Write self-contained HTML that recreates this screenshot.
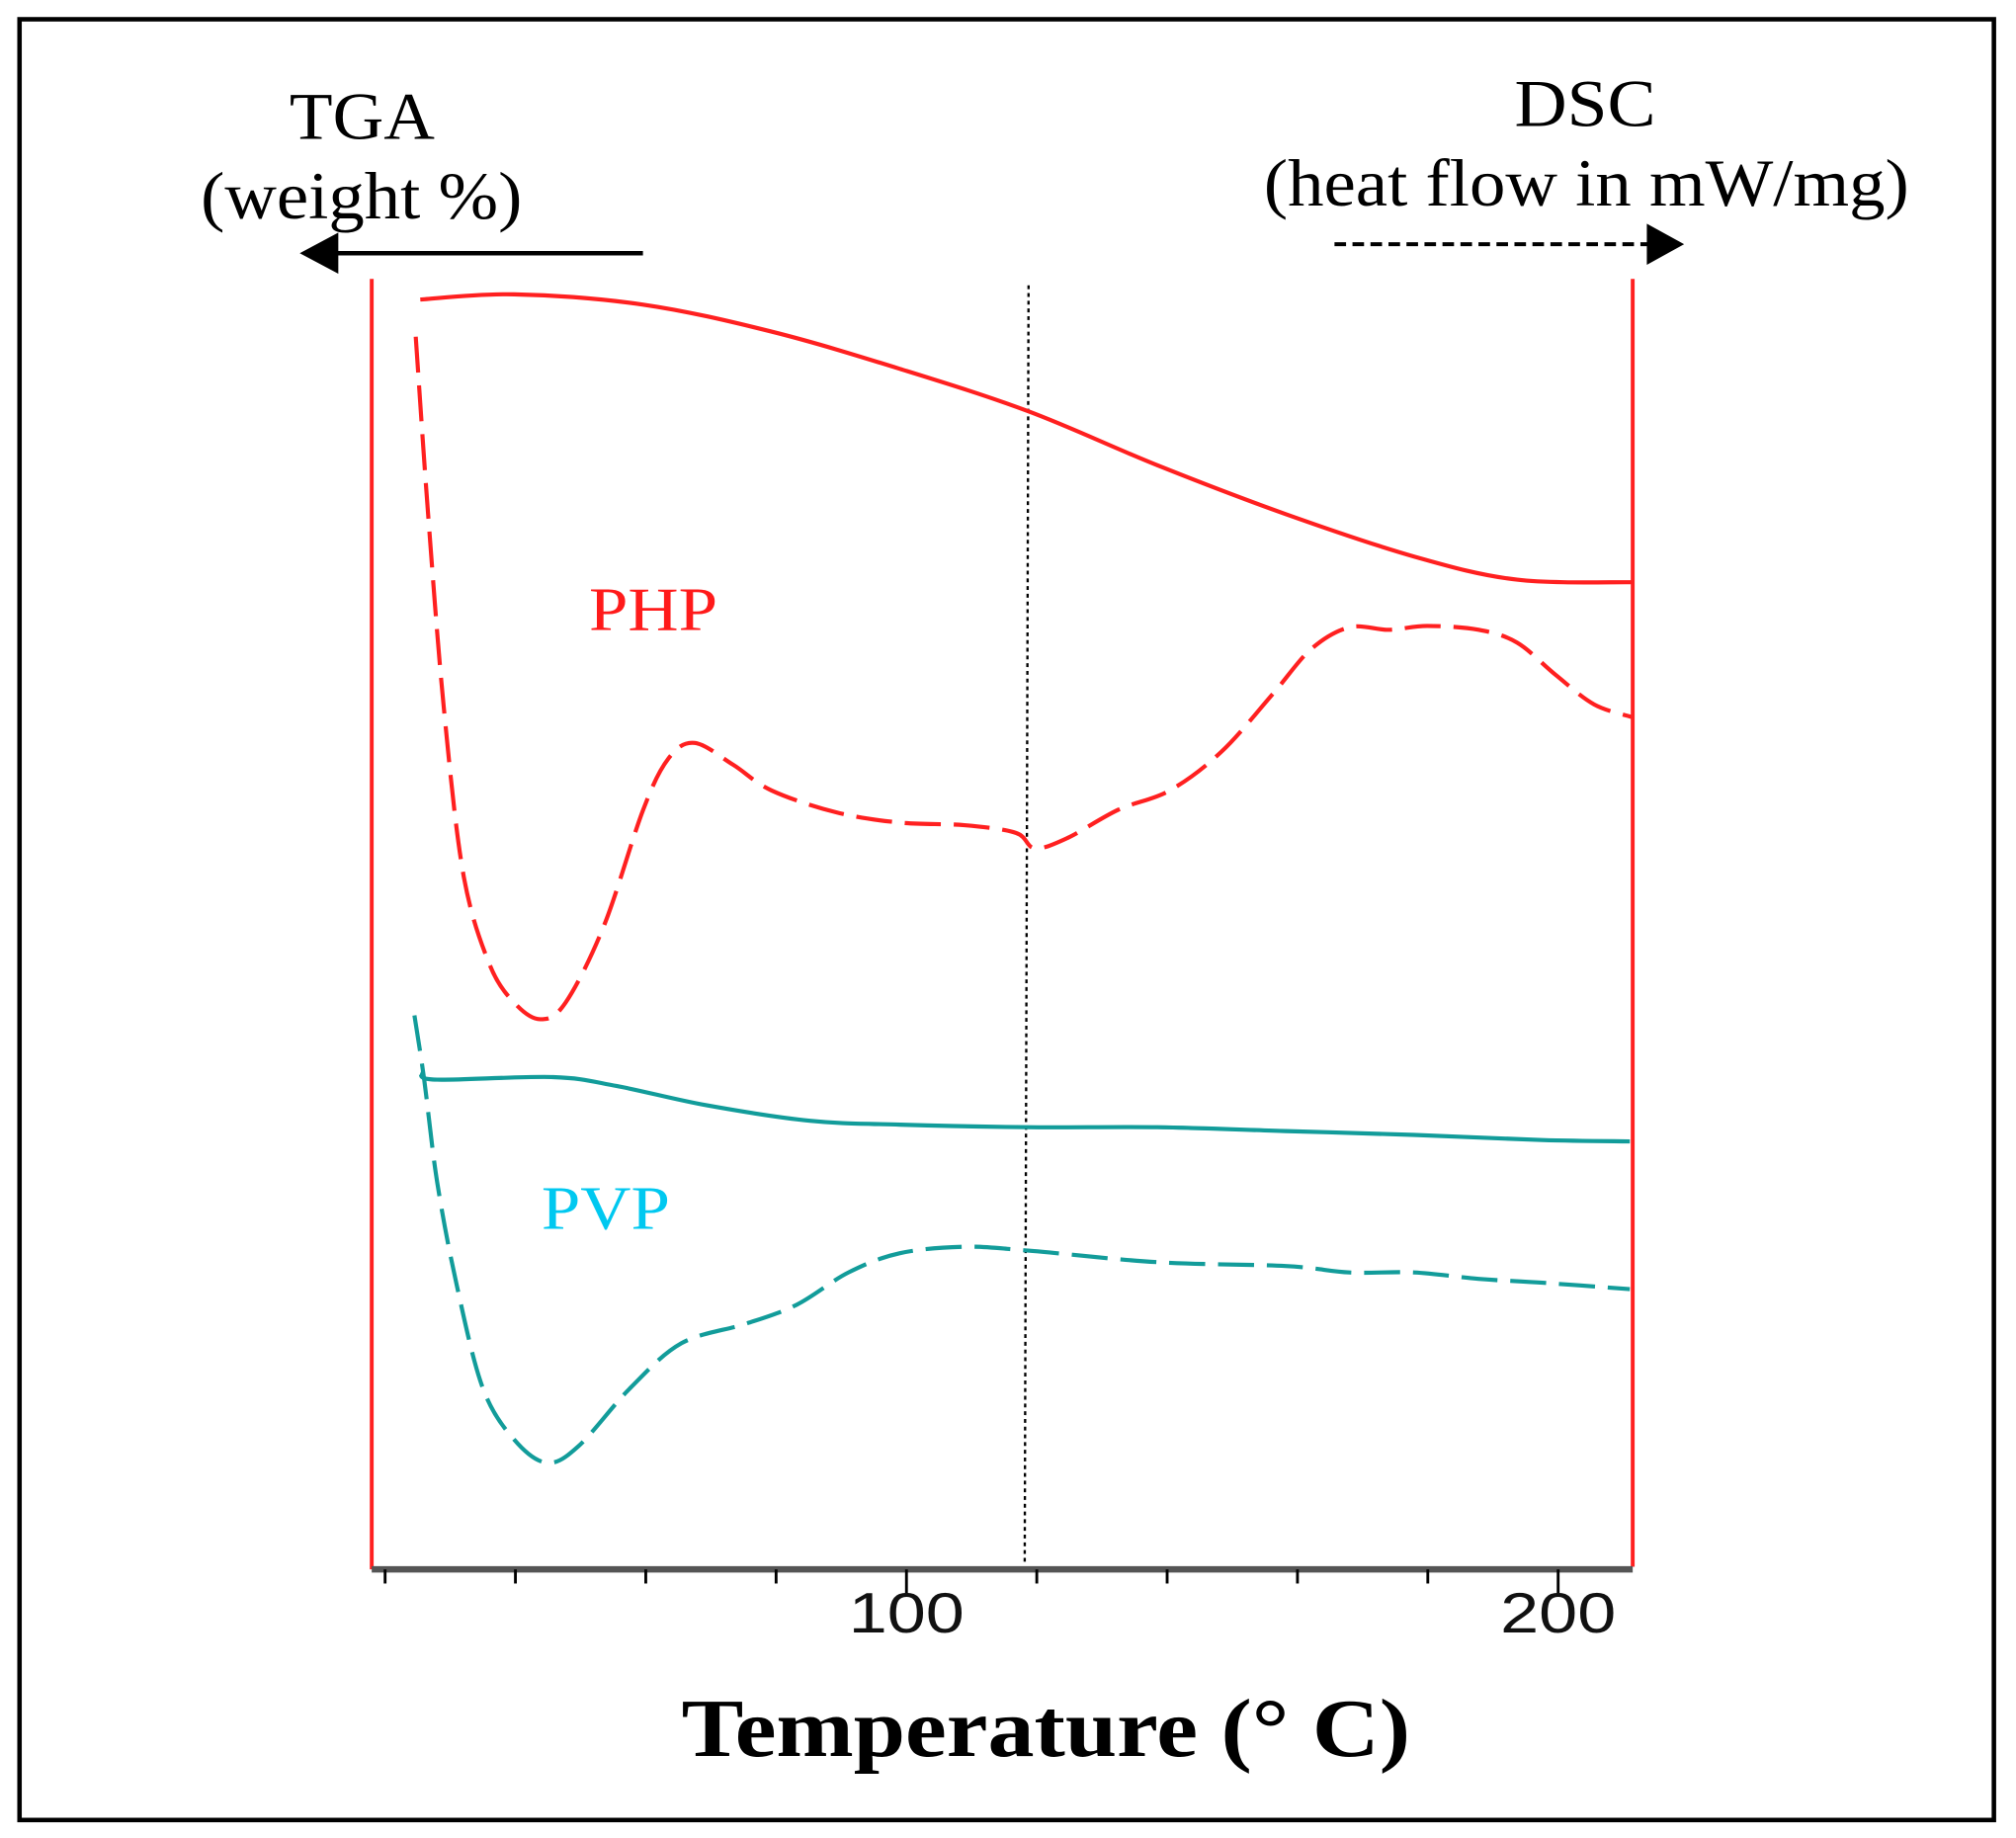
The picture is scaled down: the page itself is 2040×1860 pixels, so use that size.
<!DOCTYPE html>
<html><head><meta charset="utf-8"><style>
html,body{margin:0;padding:0;background:#fff;}
svg{display:block;}
</style></head><body>
<svg id="chart" width="2040" height="1860" viewBox="0 0 1568 1430" xmlns="http://www.w3.org/2000/svg">
<rect x="15" y="15" width="1536" height="1401" fill="#fff" stroke="#000" stroke-width="3.5"/>
<text x="225" y="108" textLength="113" lengthAdjust="spacingAndGlyphs" font-family="Liberation Serif, serif" font-size="52">TGA</text>
<text x="156" y="170" textLength="250" lengthAdjust="spacingAndGlyphs" font-family="Liberation Serif, serif" font-size="52">(weight %)</text>
<line x1="500" y1="197" x2="255" y2="197" stroke="#000" stroke-width="3.5"/>
<polygon points="233,197 263,181 263,213" fill="#000"/>
<text x="1178" y="98" textLength="110" lengthAdjust="spacingAndGlyphs" font-family="Liberation Serif, serif" font-size="52">DSC</text>
<text x="983" y="160" textLength="502" lengthAdjust="spacingAndGlyphs" font-family="Liberation Serif, serif" font-size="52">(heat flow in mW/mg)</text>
<line x1="1038" y1="190" x2="1285" y2="190" stroke="#000" stroke-width="3" stroke-dasharray="9,5"/>
<polygon points="1310,190 1281,174 1281,206" fill="#000"/>
<line x1="289" y1="217" x2="289" y2="1221" stroke="#ff2020" stroke-width="3"/>
<line x1="1270" y1="217" x2="1270" y2="1219" stroke="#ff2020" stroke-width="3"/>
<line x1="289" y1="1221" x2="1270" y2="1221" stroke="#555" stroke-width="5"/>
<line x1="800" y1="222" x2="797" y2="1215" stroke="#000" stroke-width="1.8" stroke-dasharray="3,3"/>
<g id="ticks"></g>
<g id="series"></g>
<text x="458" y="490" textLength="100" lengthAdjust="spacingAndGlyphs" font-family="Liberation Serif, serif" font-size="48" fill="#ff1a1a">PHP</text>
<text x="421" y="956" textLength="100" lengthAdjust="spacingAndGlyphs" font-family="Liberation Serif, serif" font-size="48" fill="#00c8f0">PVP</text>
<text x="530" y="1366" textLength="567" lengthAdjust="spacingAndGlyphs" font-family="Liberation Serif, serif" font-size="64" font-weight="bold">Temperature (° C)</text>
</svg>
<script>
const tickValues = [20,40,60,80,100,120,140,160,180,200];
const tickLabels = ["100","200"];
const phpTgaT = [25.4,39.8,59.6,79.3,99,118.7,138.5,158.2,177.9,193.7,211.4];
const phpTgaV = [98.7,99.1,98.3,96.2,93.3,90.0,85.8,82.0,78.7,76.9,76.7];
const phpDscT = [24.7,26.6,29,32,36,39.8,43.8,47.7,53.6,59.6,63.5,67.5,73.4,79.3,89.2,99,108.9,116.8,119.7,124.7,132.5,140.4,148.3,156.2,162.1,168,174,179.9,187.8,193.7,199.6,205.5,211.4];
const phpDscV = [95.8,82,67,54,47,44,42.7,44,50,59,63,64.2,62.5,60.5,58.8,58,57.8,57.2,56,56.8,59,60.5,63.5,68,71.5,73.2,73,73.3,73,72,69.5,67.2,66.2];
const pvpTgaT = [25.4,28,45.8,55.6,69.4,85.2,99,118.7,138.5,158.2,177.9,197.6,211];
const pvpTgaV = [38.5,38,38.2,37.5,36,34.8,34.5,34.3,34.3,34,33.7,33.3,33.2];
const pvpDscT = [24.5,26,28,31,35,39.8,44.8,49.7,57.6,65.5,75.3,83.2,91.1,99,108.9,118.7,138.5,158.2,168,177.9,187.8,197.6,211];
const pvpDscV = [43,38,30,22,14,10,8.2,9.5,14,17.5,19,20.5,23,24.5,25,24.7,23.8,23.5,23,23,22.5,22.2,21.7];

const xs = t => 705 + (t - 100) * 5.07;
const ys = v => 1220 - v * 10;
const NS = "http://www.w3.org/2000/svg";
const tg = document.getElementById('ticks');
tickValues.forEach(t => {
  const l = document.createElementNS(NS,'line');
  
  
  l.setAttribute('x1', xs(t)); l.setAttribute('x2', xs(t));
  l.setAttribute('y1', 1221); l.setAttribute('y2', t % 100 === 0 ? 1240 : 1232);
  l.setAttribute('stroke', '#000'); l.setAttribute('stroke-width', 2.2);
  tg.appendChild(l);
});
tickLabels.forEach(s => {
  const tx = document.createElementNS(NS,'text');
  
  
  tx.setAttribute('x', xs(+s) - 45); tx.setAttribute('y', 1270);
  tx.setAttribute('textLength', 90);
  tx.setAttribute('lengthAdjust', 'spacingAndGlyphs');
  tx.setAttribute('font-family', 'Liberation Sans, sans-serif');
  tx.setAttribute('font-size', 44);
  tx.setAttribute('fill', '#111');
  tx.textContent = s;
  tg.appendChild(tx);
});
const sg = document.getElementById('series');
function draw(T, V, color, dash, name) {
  let d = '';
  for (let i = 0; i < T.length; i++) {
    const x = xs(T[i]), y = ys(V[i]);
    if (i === 0) d += 'M' + x + ',' + y;
    else {
      const x0 = xs(T[i-1]), y0 = ys(V[i-1]);
      const xp = i > 1 ? xs(T[i-2]) : x0, yp = i > 1 ? ys(V[i-2]) : y0;
      const xn = i < T.length-1 ? xs(T[i+1]) : x, yn = i < T.length-1 ? ys(V[i+1]) : y;
      const c1x = x0 + (x - xp) / 6, c1y = y0 + (y - yp) / 6;
      const c2x = x - (xn - x0) / 6, c2y = y - (yn - y0) / 6;
      d += ' C' + c1x + ',' + c1y + ' ' + c2x + ',' + c2y + ' ' + x + ',' + y;
    }
  }
  const p = document.createElementNS(NS,'path');
  
  
  p.setAttribute('d', d);
  p.setAttribute('fill', 'none');
  p.setAttribute('stroke', color);
  p.setAttribute('stroke-width', 3.2);
  if (dash) p.setAttribute('stroke-dasharray', dash);
  sg.appendChild(p);
}
draw(phpTgaT, phpTgaV, '#ff2020', null, 'php-tga-line');
draw(phpDscT, phpDscV, '#ff2020', '28,10', 'php-dsc-line');
draw(pvpTgaT, pvpTgaV, '#129c9a', null, 'pvp-tga-line');
draw(pvpDscT, pvpDscV, '#129c9a', '28,10', 'pvp-dsc-line');
</script>
</body></html>
